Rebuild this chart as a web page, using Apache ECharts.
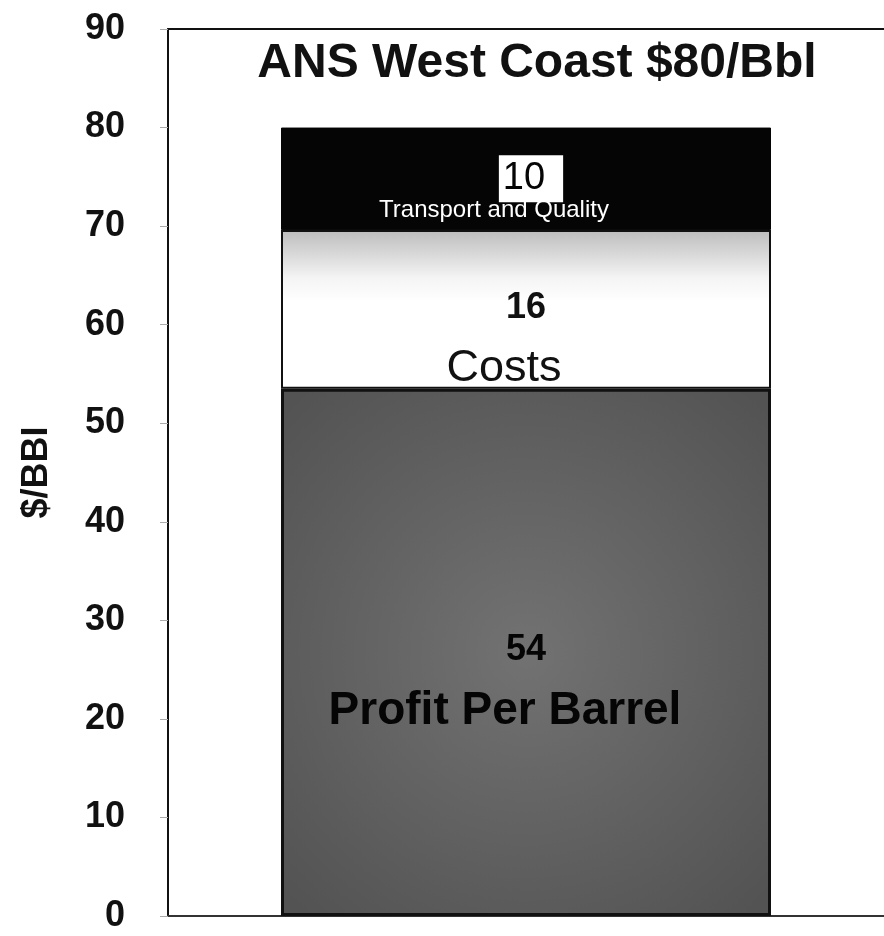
<!DOCTYPE html>
<html>
<head>
<meta charset="utf-8">
<script src="https://cdn.jsdelivr.net/npm/echarts@6/dist/echarts.min.js"></script>
<style>
html,body{margin:0;padding:0;background:#fff;}
#chart{width:884px;height:936px;}
</style>
</head>
<body>
<div id="chart"></div>
<script>
const categories = ['ANS West Coast'];
const profitValues = [53.5];
const costValues = [16.1];
const transportValues = [10.4];
const yTicks = [0, 10, 20, 30, 40, 50, 60, 70, 80, 90];
const titleText = 'ANS West Coast $80/Bbl';
const FONT = '"Liberation Sans", Arial, Helvetica, sans-serif';

const chart = echarts.init(document.getElementById('chart'));
chart.setOption({
  backgroundColor: '#ffffff',
  animation: false,
  textStyle: { fontFamily: FONT },
  grid: { left: 168, top: 29, right: 0, bottom: 20, show: false },
  graphic: [{
    type: 'text', x: 537, y: 64,
    style: { text: titleText, fontFamily: FONT, fontSize: 48, fontWeight: 'bold', fill: '#111', align: 'center', verticalAlign: 'middle' }
  }],
  xAxis: [{
    type: 'category', data: categories, position: 'bottom',
    axisLine: { show: true, lineStyle: { color: '#333', width: 2 } },
    axisTick: { show: false }, axisLabel: { show: false }, splitLine: { show: false }
  }, {
    type: 'category', data: categories, position: 'top',
    axisLine: { show: true, lineStyle: { color: '#111', width: 2 } },
    axisTick: { show: false }, axisLabel: { show: false }, splitLine: { show: false }
  }],
  yAxis: {
    type: 'value', min: yTicks[0], max: yTicks[yTicks.length - 1], interval: 10,
    name: '$/BBI', nameLocation: 'middle', nameRotate: 90, nameGap: 113,
    nameTextStyle: { fontFamily: FONT, fontSize: 36, fontWeight: 'bold', color: '#111' },
    axisLine: { show: true, lineStyle: { color: '#111', width: 2 } },
    axisTick: { show: true, length: 8, lineStyle: { color: '#aaa' } },
    axisLabel: { fontFamily: FONT, fontSize: 36, fontWeight: 'bold', color: '#111', margin: 43 },
    splitLine: { show: false }
  },
  series: [
    {
      name: 'Profit Per Barrel', type: 'bar', stack: 'total', data: profitValues, barWidth: 490,
      itemStyle: {
        color: new echarts.graphic.RadialGradient(0.5, 0.5, 0.7, [
          { offset: 0, color: '#727272' }, { offset: 1, color: '#535353' }
        ]),
        borderColor: '#111', borderWidth: 3
      },
      label: {
        show: true, position: 'inside', offset: [0, 28],
        formatter: (p) => '{v|' + Math.round(p.value) + '}\n{n|Profit Per Barrel}',
        rich: {
          v: { fontFamily: FONT, fontSize: 36, fontWeight: 'bold', color: '#050505', lineHeight: 61, align: 'center' },
          n: { fontFamily: FONT, fontSize: 46, fontWeight: 'bold', color: '#050505', lineHeight: 61, padding: [0, 42, 0, 0], align: 'center' }
        }
      }
    },
    {
      name: 'Costs', type: 'bar', stack: 'total', data: costValues, barWidth: 490,
      itemStyle: {
        color: new echarts.graphic.LinearGradient(0, 0, 0, 1, [
          { offset: 0, color: '#bdbdbd' }, { offset: 0.15, color: '#d8d8d8' }, { offset: 0.3, color: '#f4f4f4' }, { offset: 0.45, color: '#ffffff' }, { offset: 1, color: '#ffffff' }
        ]),
        borderColor: '#111', borderWidth: 2
      },
      label: {
        show: true, position: 'inside', offset: [0, 29],
        formatter: (p) => '{v|' + Math.round(p.value) + '}\n{n|Costs}',
        rich: {
          v: { fontFamily: FONT, fontSize: 36, fontWeight: 'bold', color: '#111', lineHeight: 60, align: 'center' },
          n: { fontFamily: FONT, fontSize: 45, color: '#111', lineHeight: 60, padding: [0, 44, 0, 0], align: 'center' }
        }
      }
    },
    {
      name: 'Transport and Quality', type: 'bar', stack: 'total', data: transportValues, barWidth: 490,
      itemStyle: { color: '#050505', borderColor: '#050505', borderWidth: 1 },
      label: {
        show: true, position: 'inside', offset: [5, 8],
        formatter: (p) => '{v|' + Math.round(p.value) + '}\n{n|Transport and Quality}',
        rich: {
          v: { fontFamily: FONT, fontSize: 38, color: '#050505', backgroundColor: '#ffffff', padding: [0, 18, 0, 4], lineHeight: 47, height: 47, align: 'center' },
          n: { fontFamily: FONT, fontSize: 24, color: '#ffffff', lineHeight: 16, padding: [0, 74, 0, 0], align: 'center' }
        }
      }
    }
  ]
});
</script>
</body>
</html>
